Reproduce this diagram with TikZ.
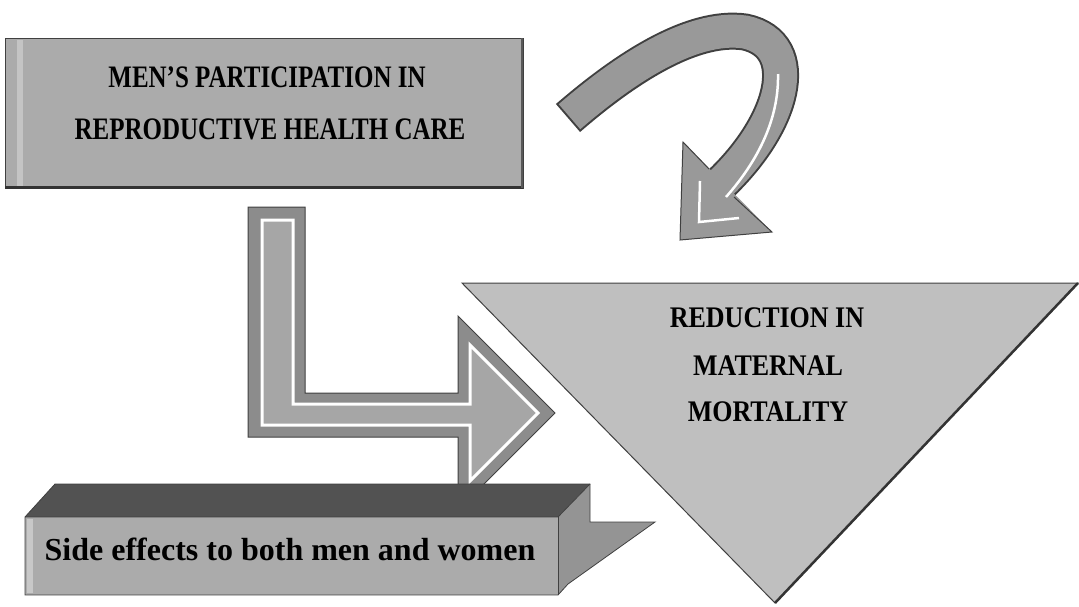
\documentclass[tikz,border=0pt]{standalone}
\usepackage{fontspec}
\setmainfont{Liberation Serif}
\tikzset{
  capstext/.style={font=\fontsize{25}{28}\selectfont\bfseries, inner sep=0pt, yscale=1.25},
  tritext/.style={font=\fontsize{26}{30}\selectfont\bfseries, inner sep=0pt, yscale=1.15},
  sidetext/.style={font=\fontsize{32}{36}\selectfont\bfseries, inner sep=0pt},
  boxfill/.style={fill=black!33},
  outline/.style={draw=black!75, line width=1pt},
  bandfill/.style={fill=black!45},
  innerfill/.style={fill=black!35},
}
\begin{document}
\begin{tikzpicture}[x=1pt,y=-1pt]
\useasboundingbox (0,0) rectangle (1079,606);

% ---- top box
\fill[boxfill] (5,38) rectangle (523,188);
\fill[white,opacity=.3] (17,40) rectangle (23,186);
\draw[outline] (5,38) rectangle (523,188);
\draw[black!80,line width=3pt] (5,187) -- (523,187);
\draw[black!65,line width=2pt] (522,38) -- (522,188);
\node[capstext] (men) at (267,77) {MEN'S PARTICIPATION IN};
\node[capstext] (repro) at (270,129) {REPRODUCTIVE HEALTH CARE};

% ---- curved arrow
\draw[black!75,line width=37pt] (568,118) .. controls (620,73) and (690,24) .. (745,32)
      .. controls (805,45) and (785,125) .. (716,188);
\draw[black!40,line width=33pt,shorten <=2pt] (568,118) .. controls (620,73) and (690,24) .. (745,32)
      .. controls (805,45) and (785,125) .. (716,188);
\fill[black!40] (683,142) -- (680,240) -- (772,232) -- cycle;
\draw[outline,line join=miter] (709,169) -- (683,142) -- (680,240) -- (772,232) -- (734,197);
\draw[white,line width=2.5pt] (778,74) .. controls (779,120) and (757,162) .. (726,197);
\draw[white,line width=2.5pt] (700,181) -- (699,222) -- (739,218);

% ---- L-shaped arrow
\path[bandfill,outline] (248,207) -- (305,207) -- (305,393) -- (458,393) -- (458,316)
      -- (555,413) -- (458,510) -- (458,437) -- (248,437) -- cycle;
\path[innerfill,draw=white,line width=3pt] (262,220) -- (293,220) -- (293,404) -- (470,404)
      -- (470,345) -- (538,413) -- (470,481) -- (470,425) -- (262,425) -- cycle;

% ---- triangle
\fill[black!25] (462,283) -- (1078,283) -- (775,603) -- cycle;
\draw[outline,line join=miter] (462,283) -- (1078,283) -- (775,603) -- cycle;
\draw[black!80,line width=2.5pt] (1078,283) -- (775,603);
\node[tritext] (red) at (767,318) {REDUCTION IN};
\node[tritext] (mat) at (768,366) {MATERNAL};
\node[tritext] (mort) at (768,412) {MORTALITY};

% ---- bottom 3D box
\fill[black!68] (25,517) -- (55,484) -- (590,484) -- (558,517) -- cycle;
\fill[black!33] (25,517) rectangle (558,595);
\fill[white,opacity=.35] (27,519) rectangle (33,593);
\fill[black!42] (558,517) -- (590,484) -- (590,522) -- (655,522) -- (568,584) -- (558,595) -- cycle;
\draw[black!75,line width=0.8pt,line join=miter] (25,517) -- (55,484) -- (590,484) -- (590,522) -- (655,522)
      -- (568,584) -- (558,595) -- (25,595) -- cycle;
\draw[black!75,line width=0.8pt] (25,517) -- (558,517) -- (590,484);
\draw[black!75,line width=0.8pt] (558,517) -- (558,595);
\node[sidetext] (side) at (290,549) {Side effects to both men and women};
\end{tikzpicture}
\end{document}
